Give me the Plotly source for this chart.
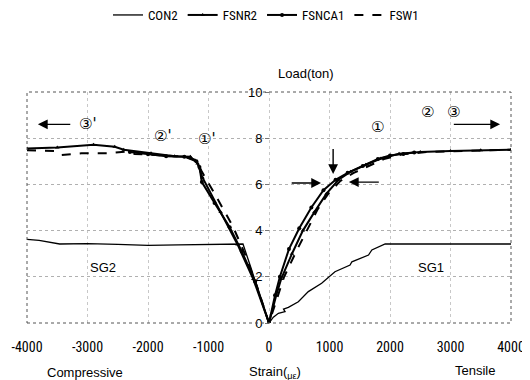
import plotly.graph_objects as go

# ---- data (strain in micro-strain, load in ton) ----
con2_strain = [-4000, -3800, -3460, -3000, -2500, -2000, -1500, -1000, -600, -430, -300, -150, 0,
               72, 155, 265, 240, 320, 485, 650, 870, 1090, 1200, 1340, 1370, 1645, 1700, 1865, 1920,
               2500, 3000, 3500, 4000]
con2_load = [3.62, 3.58, 3.42, 3.44, 3.4, 3.36, 3.38, 3.4, 3.4, 3.42, 2.4, 1.2, 0,
             0.25, 0.42, 0.49, 0.6, 0.68, 0.92, 1.36, 1.72, 2.22, 2.36, 2.51, 2.65, 2.94, 3.16, 3.38, 3.42,
             3.42, 3.42, 3.42, 3.42]

fsnr2_strain = [-4000, -3500, -2900, -2550, -2400, -1950, -1560, -1300, -1180, -1100, -800, -520, -260, 0,
                120, 200, 380, 560, 750, 950, 1150, 1350, 1600, 1850, 2150, 2500, 3000, 3500, 4000]
fsnr2_load = [7.55, 7.6, 7.72, 7.63, 7.5, 7.35, 7.22, 7.2, 6.9, 6.3, 4.8, 3.4, 1.9, 0,
              1.2, 1.9, 3.0, 4.0, 4.8, 5.6, 6.2, 6.55, 6.85, 7.12, 7.33, 7.4, 7.45, 7.48, 7.5]

fsnca1_strain = [-2300, -2000, -1700, -1400, -1200, -1150, -1110, -900, -650, -450, -230, 0,
                 100, 180, 330, 500, 700, 900, 1100, 1300, 1550, 1800, 2000, 2220, 2400]
fsnca1_load = [7.4, 7.3, 7.22, 7.2, 7.0, 6.75, 6.1, 5.2, 4.15, 3.1, 1.8, 0,
               1.2, 2.0, 3.2, 4.1, 5.0, 5.75, 6.2, 6.5, 6.8, 7.1, 7.25, 7.32, 7.38]

fsw1_strain = [-4000, -3540, -3430, -3100, -2660, -2380, -2220, -1800, -1400, -1200, -1120, -900, -600, -400, -200, 0,
               150, 250, 450, 620, 800, 980, 1180, 1400, 1650, 1900, 2200, 2600, 3200, 4000]
fsw1_load = [7.48, 7.45, 7.27, 7.35, 7.35, 7.42, 7.32, 7.25, 7.2, 7.05, 6.6, 5.6, 4.2, 3.0, 1.6, 0,
             1.2, 2.0, 3.1, 4.0, 4.9, 5.6, 6.15, 6.5, 6.8, 7.1, 7.3, 7.4, 7.45, 7.5]

x_ticks = [-4000, -3000, -2000, -1000, 0, 1000, 2000, 3000, 4000]
y_ticks = [0, 2, 4, 6, 8, 10]

NARROW = "Liberation Sans Narrow, Arial Narrow, Roboto Condensed, Liberation Sans, sans-serif"
SANS = "Liberation Sans, Arial, sans-serif"
CIRC = "DejaVu Sans, Noto Sans CJK SC, sans-serif"

# the page body adds an 8px offset; figure is sized so that it fills the 530x380 window
OFF = 8
W, H = 530 - OFF, 380 - OFF
L, R, T, B = 27 - OFF, 19, 92 - OFF, 57
PW, PH = W - L - R, H - T - B


def px_x(px):
    return (px - OFF - L) / PW


def px_y(py):
    return (H - B - (py - OFF)) / PH


fig = go.Figure()
fig.add_trace(go.Scatter(x=con2_strain, y=con2_load, name="CON2", mode="lines",
                         line=dict(color="black", width=1.3)))
fig.add_trace(go.Scatter(x=fsnr2_strain, y=fsnr2_load, name="FSNR2", mode="lines+markers",
                         line=dict(color="black", width=2),
                         marker=dict(symbol="triangle-up", size=4, color="black")))
fig.add_trace(go.Scatter(x=fsnca1_strain, y=fsnca1_load, name="FSNCA1", mode="lines+markers",
                         line=dict(color="black", width=2),
                         marker=dict(symbol="circle", size=4, color="black")))
fig.add_trace(go.Scatter(x=fsw1_strain, y=fsw1_load, name="FSW1", mode="lines",
                         line=dict(color="black", width=2, dash="dash")))

# frame
fig.add_shape(type="rect", xref="paper", yref="paper", x0=0, y0=0, x1=1, y1=1,
              line=dict(color="#555555", width=1, dash="dot"))

ann = []


def txt(x, y, s, size=12, font=SANS, xref="x", yref="y"):
    ann.append(dict(x=x, y=y, xref=xref, yref=yref, text=s, showarrow=False,
                    xanchor="center", yanchor="middle",
                    font=dict(size=size, family=font, color="black")))


def arrow(x0, y0, x1, y1):
    ann.append(dict(x=x1, y=y1, ax=x0, ay=y0, xref="x", yref="y", axref="x", ayref="y",
                    text="", showarrow=True, arrowhead=2, arrowsize=1.4, arrowwidth=1.4,
                    arrowcolor="black"))


txt(-2750, 2.4, "SG2", 13)
txt(2670, 2.4, "SG1", 13)
txt(-1030, 7.95, "①'", 15, CIRC)
txt(-1750, 8.1, "②'", 15, CIRC)
txt(-3000, 8.6, "③'", 15, CIRC)
txt(1800, 8.5, "①", 15, CIRC)
txt(2620, 9.15, "②", 15, CIRC)
txt(3050, 9.15, "③", 15, CIRC)
arrow(-3260, 8.6, -3820, 8.6)
arrow(3030, 8.6, 3820, 8.6)
arrow(1060, 7.6, 1060, 6.45)
arrow(350, 6.06, 860, 6.06)
arrow(1840, 6.1, 1320, 6.1)

txt(px_x(85), px_y(372), "Compressive", 13, SANS, "paper", "paper")
txt(px_x(275), px_y(372), "Strain(<sub>με</sub>)", 13, SANS, "paper", "paper")
txt(px_x(475), px_y(370), "Tensile", 13, SANS, "paper", "paper")
txt(px_x(306), px_y(73), "Load(ton)", 13, SANS, "paper", "paper")

fig.update_layout(
    width=W, height=H,
    margin=dict(l=L, r=R, t=T, b=B, autoexpand=False),
    paper_bgcolor="white", plot_bgcolor="white",
    showlegend=True,
    legend=dict(orientation="h", x=px_x(266), xanchor="center", y=px_y(15), yanchor="middle",
                font=dict(family=NARROW, size=13, color="black"), itemwidth=30,
                traceorder="normal", bgcolor="rgba(0,0,0,0)"),
    annotations=ann,
    xaxis=dict(range=[-4000, 4000], tickvals=x_ticks, ticktext=[str(v) for v in x_ticks],
               showgrid=True, gridcolor="#c8c8c8", griddash="dot", gridwidth=1,
               zeroline=False, showline=False, ticks="",
               tickfont=dict(family=NARROW, size=14, color="black"), ticklabelstandoff=14),
    yaxis=dict(range=[0, 10], tickvals=y_ticks, anchor="free", position=0.5,
               showgrid=True, gridcolor="#b0b0b0", griddash="dot", gridwidth=1,
               zeroline=False, showline=False, ticks="outside", ticklen=4, tickcolor="#777777",
               tickfont=dict(family=SANS, size=13, color="black")),
)

fig.write_html("out.html")
